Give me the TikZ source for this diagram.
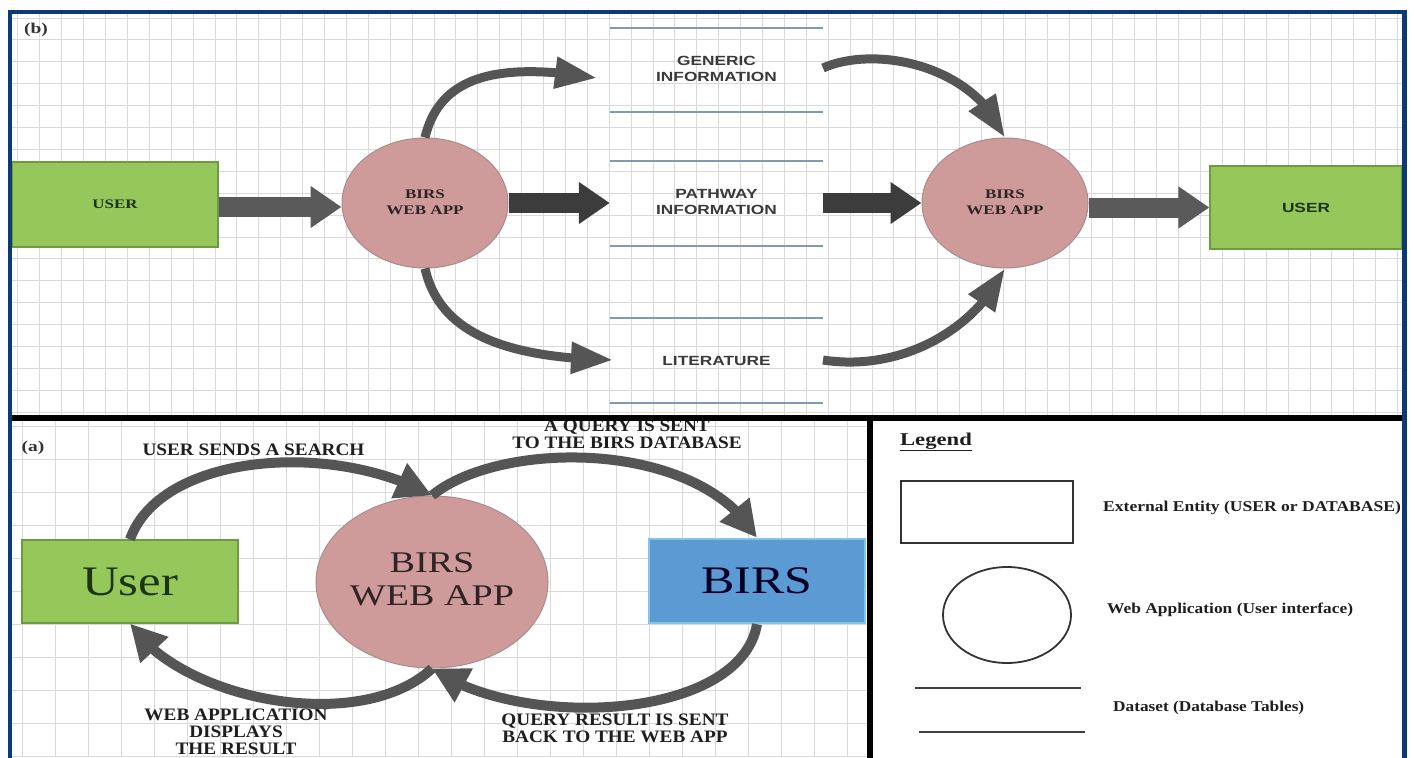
\documentclass[tikz,border=0pt]{standalone}
\usepackage{fontspec}
\setmainfont{Liberation Serif}
\newfontfamily\arialf{Liberation Sans}
\usepackage{graphicx}
\usetikzlibrary{arrows.meta,bending,shapes.geometric}
\newcommand{\hx}[2]{\scalebox{#1}[1]{#2}}
\newcommand{\tb}[1]{\begin{tabular}{@{}c@{}}#1\end{tabular}}
\definecolor{frameblue}{HTML}{0B3B6F}
\definecolor{gridc}{HTML}{D9D9D9}
\definecolor{ugreen}{HTML}{95C75A}
\definecolor{ugreenb}{HTML}{6E9A42}
\definecolor{rose}{HTML}{CE9A9A}
\definecolor{roseb}{HTML}{A88C8C}
\definecolor{dsetc}{HTML}{3A3A3A}
\definecolor{dsline}{HTML}{7F9AB3}
\definecolor{curvc}{HTML}{555555}
\definecolor{fatl}{HTML}{5A5A5A}
\definecolor{fatd}{HTML}{3C3C3C}
\definecolor{lblc}{HTML}{1E1E1E}
\definecolor{boxblue}{HTML}{5C9AD4}
\definecolor{boxblueb}{HTML}{80C4EA}
\definecolor{usertxt}{HTML}{1C3414}
\definecolor{apptxt}{HTML}{2E2424}
\begin{document}
\begin{tikzpicture}[x=1pt,y=-1pt,
  gridline/.style={draw=gridc, line width=0.9pt},
  ubox/.style={rectangle, fill=ugreen, draw=ugreenb, line width=1.2pt, inner sep=0pt},
  wapp/.style={ellipse, fill=rose, draw=roseb, line width=1pt, inner sep=0pt},
  dset/.style={rectangle, minimum width=213pt, minimum height=84pt, inner sep=0pt,
    font=\arialf\bfseries\fontsize{13.3}{16}\selectfont, text=dsetc},
  dsetline/.style={draw=dsline, line width=2pt},
  fatarrow/.style={line width=20pt, -{Triangle[length=31pt,width=40pt]}},
  curvt/.style={draw=curvc, line width=9pt, -{Triangle[length=42pt,width=30pt]}},
  curvb/.style={draw=curvc, line width=10pt, -{Triangle[length=36pt,width=36pt]}},
  lbl/.style={font=\bfseries\fontsize{17.5}{17}\selectfont, text=lblc, inner sep=0pt},
  leg/.style={font=\bfseries\fontsize{15}{17}\selectfont, text=lblc, anchor=west, inner sep=0pt},
  tag/.style={font=\bfseries\fontsize{15}{17}\selectfont, text=black!80, inner sep=0pt}
]
\useasboundingbox (0,0) rectangle (1415,757);
\fill[white] (0,0) rectangle (1415,757);

% grids
\begin{scope}
  \clip (12,13) rectangle (1402,416);
  \foreach \i in {0,...,64} \draw[gridline] ({17.9+21.9*\i},13) -- ++(0,403);
  \foreach \j in {0,...,18} \draw[gridline] (12,{18+21.9*\j}) -- ++(1390,0);
\end{scope}
\begin{scope}
  \clip (12,420) rectangle (868,757);
  \foreach \i in {0,...,26} \draw[gridline] ({22+33*\i},420) -- ++(0,337);
  \foreach \j in {0,...,10} \draw[gridline] (12,{426+33*\j}) -- ++(856,0);
\end{scope}

% ---------- panel (b) ----------
\node[tag] (tb) at (36,30) {\hx{1.3}{(b)}};
\node[ubox, minimum width=206pt, minimum height=85pt,
      font=\bfseries\fontsize{13}{15}\selectfont, text=usertxt] (u1) at (115,204.5) {\hx{1.3}{USER}};
\node[wapp, minimum width=166pt, minimum height=130pt,
      font=\bfseries\fontsize{13.1}{16}\selectfont, text=apptxt] (c1) at (425,203) {\hx{1.3}{\tb{BIRS\\WEB APP}}};
\node[wapp, minimum width=166pt, minimum height=130pt,
      font=\bfseries\fontsize{13.1}{16}\selectfont, text=apptxt] (c2) at (1005,203) {\hx{1.3}{\tb{BIRS\\WEB APP}}};
\node[ubox, minimum width=192pt, minimum height=83pt,
      font=\arialf\bfseries\fontsize{13.3}{15}\selectfont, text=usertxt] (u2) at (1306,207.5) {\hx{1.3}{USER}};

\node[dset] (g) at (716.5,70) {\hx{1.3}{\tb{GENERIC\\INFORMATION}}};
\node[dset] (p) at (716.5,203.5) {\hx{1.3}{\tb{PATHWAY\\INFORMATION}}};
\node[dset] (l) at (716.5,360.5) {\hx{1.3}{LITERATURE}};
\foreach \d in {g,p,l} {
  \draw[dsetline] (\d.north west) -- (\d.north east);
  \draw[dsetline] (\d.south west) -- (\d.south east);
}
\coordinate (gin) at (597,78);
\coordinate (lin) at (613,360);
\coordinate (gout) at (823,68);
\coordinate (lout) at (823,360);

\draw[fatarrow, draw=fatl] ([yshift=-2.5pt]u1.east) -- ([yshift=-2.5pt]u1.east -| c1.west);
\draw[fatarrow, draw=fatd] (c1.east) -- (c1.east -| p.west);
\draw[fatarrow, draw=fatd] (p.east |- c2.west) -- (c2.west);
\draw[fatarrow, draw=fatl] (c2.east |- u2.west) -- (u2.west);

\draw[curvt] (c1.north) .. controls +(15,-63) and +(-97,-16) .. (gin);
\draw[curvt] (c1.south) .. controls +(15,67) and +(-103,-2) .. (lin);
\draw[curvt] (gout) .. controls +(52,-23) and +(-30,-73) .. (c2.north);
\draw[curvt] (lout) .. controls +(77,12) and +(-30,62) .. (c2.south);

% ---------- panel (a) ----------
\node[tag] (ta) at (33,448) {\hx{1.3}{(a)}};
\node[ubox, minimum width=216pt, minimum height=83pt,
      font=\fontsize{42}{46}\selectfont, text=usertxt] (user) at (130,581.5) {\hx{1.21}{User}};
\node[wapp, minimum width=225pt, minimum height=172pt,
      font=\fontsize{30}{33}\selectfont, text=apptxt] (c3) at (432,582) {\hx{1.27}{\tb{BIRS\\WEB APP}}};
\node[rectangle, fill=boxblue, draw=boxblueb, line width=2.5pt, inner sep=0pt,
      minimum width=216pt, minimum height=84pt,
      font=\fontsize{39}{42}\selectfont, text=black!85!blue] (birs) at (757,581) {\hx{1.28}{BIRS}};

\node[lbl] (l1) at (253.5,450) {\hx{1.1}{USER SENDS A SEARCH}};
\node[lbl] (l2) at (627,437) {\hx{1.1}{\tb{A QUERY IS SENT\\TO THE BIRS DATABASE}}};
\node[lbl] (l3) at (236,734) {\hx{1.1}{\tb{WEB APPLICATION\\DISPLAYS\\THE RESULT}}};
\node[lbl] (l4) at (615,731) {\hx{1.1}{\tb{QUERY RESULT IS SENT\\BACK TO THE WEB APP}}};

\draw[curvb] (user.north) .. controls +(30,-85) and +(-102,-56) .. (c3.north);
\draw[curvb] (c3.north) .. controls +(68,-56) and +(-57,-99) .. (birs.north);
\draw[curvb] (birs.south) .. controls +(-17,97) and +(88,62) .. (c3.south);
\draw[curvb] (c3.south) .. controls +(-72,67) and +(50,76.5) .. (user.south);

% ---------- legend ----------
\fill[white] (870,420) rectangle (1404,757);
\node[font=\bfseries\fontsize{18}{20}\selectfont, text=lblc, inner sep=0pt] (lg) at (936,442) {\hx{1.26}{\underline{Legend}}};
\node[draw=black!80, line width=2pt, minimum width=172pt, minimum height=62pt, inner sep=0pt] (lr) at (987,512) {};
\node[ellipse, draw=black!80, line width=1.8pt, minimum width=128pt, minimum height=96pt, inner sep=0pt] (le) at (1007,615) {};
\coordinate (d1a) at (915,688); \coordinate (d1b) at (1081,688);
\coordinate (d2a) at (919,732); \coordinate (d2b) at (1085,732);
\draw[black!75, line width=2pt] (d1a) -- (d1b);
\draw[black!75, line width=2pt] (d2a) -- (d2b);
\node[leg] (t1) at (1103,508) {\hx{1.17}{External Entity (USER or DATABASE)}};
\node[leg] (t2) at (1107,610) {\hx{1.16}{Web Application (User interface)}};
\node[leg] (t3) at (1113,708) {\hx{1.15}{Dataset (Database Tables)}};

% ---------- frames ----------
\draw[black, line width=5.5pt] (12,418) -- (1402,418);
\draw[black, line width=6pt] (870,418) -- (870,760);
\draw[frameblue, line width=4.5pt] (10,765) -- (10,12) -- (1404.5,12) -- (1404.5,765);
\end{tikzpicture}
\end{document}
